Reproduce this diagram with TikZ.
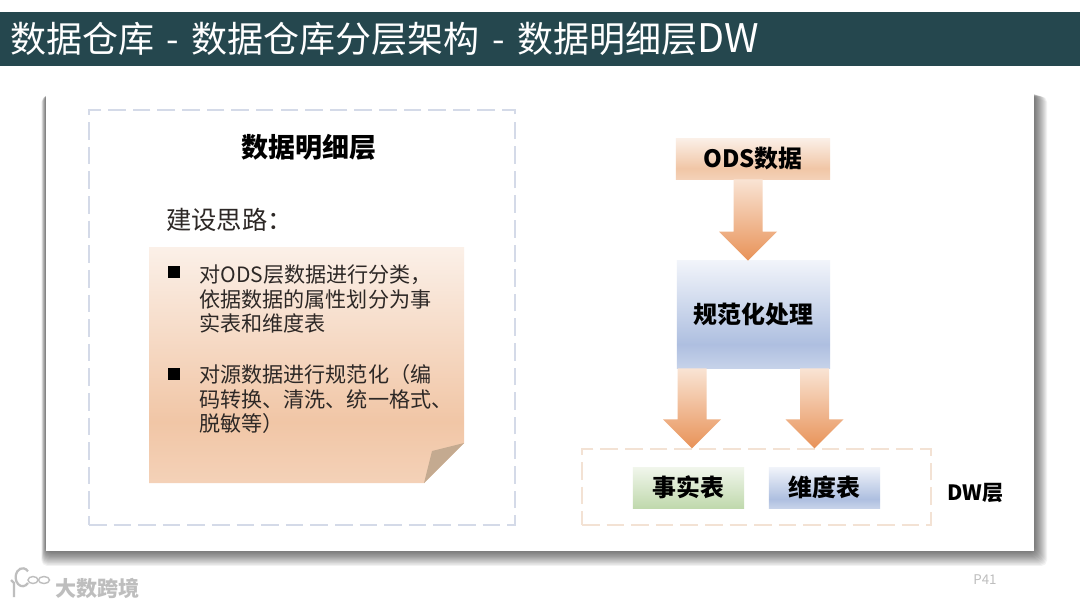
\documentclass[tikz,border=0pt]{standalone}
\usepackage{fontspec}
\setmainfont{Noto Sans CJK SC}
\usetikzlibrary{calc}
\definecolor{titleTeal}{RGB}{37, 71, 78}
\definecolor{bodyText}{RGB}{45, 40, 38}
\definecolor{leftDash}{RGB}{212, 218, 232}
\definecolor{rightDash}{RGB}{243, 226, 212}
\definecolor{foldTan}{RGB}{196, 170, 144}
\definecolor{peachTop}{RGB}{251, 240, 232}
\definecolor{peachLow}{RGB}{241, 198, 166}
\definecolor{blueTop}{RGB}{241, 244, 250}
\definecolor{blueLow}{RGB}{174, 191, 224}
\definecolor{greenTop}{RGB}{241, 246, 236}
\definecolor{greenLow}{RGB}{192, 217, 173}
\definecolor{arrowTop}{RGB}{249, 228, 212}
\definecolor{arrowLow}{RGB}{232, 146, 88}
\definecolor{markGray}{RGB}{190, 190, 190}
\pgfdeclareverticalshading{peachShade}{100bp}{color(0bp)=(peachLow!80!white); color(25bp)=(peachLow!80!white); color(38bp)=(peachLow); color(75bp)=(peachTop); color(100bp)=(peachTop)}
\pgfdeclareverticalshading{blueShade}{100bp}{color(0bp)=(blueLow!70!white); color(25bp)=(blueLow!70!white); color(36bp)=(blueLow); color(75bp)=(blueTop); color(100bp)=(blueTop)}
\pgfdeclareverticalshading{greenShade}{100bp}{color(0bp)=(greenLow); color(25bp)=(greenLow); color(75bp)=(greenTop); color(100bp)=(greenTop)}
\newcommand{\blockarrow}[3]{
    \coordinate (tail) at ($(#1.south)+(#2,0)$);
    \coordinate (tip) at (tail |- #3.north);
    \path[flowarrow] ($(tail)+(-14.5,0)$) -- ($(tip)+(-14.5,-29)$) -- ($(tip)+(-29,-29)$) -- (tip)
        -- ($(tip)+(29,-29)$) -- ($(tip)+(14.5,-29)$) -- ($(tail)+(14.5,0)$) -- cycle;
}
\newcommand{\titlegap}{\hspace{3.2pt} - \hspace{3.2pt}}

\begin{document}
\begin{tikzpicture}[
                x=0.025cm,y=-0.025cm,
                flowbox/.style={inner sep=0pt,font=\fontsize{17}{20}\selectfont\bfseries,text=black},
                dashbox/.style={inner sep=0pt,line width=1pt,dash pattern=on 12.5pt off 5pt},
                flowarrow/.style={top color=arrowTop,bottom color=arrowLow},
                bullet/.style={fill=black,inner sep=0pt,minimum size=0.3cm},
                bodyline/.style={inner sep=0pt,anchor=west,align=left,text=bodyText,
                             font=\fontsize{15}{17.7}\selectfont}
            ]
                \useasboundingbox (0,0) rectangle (1080,608);
                \fill[white] (0,0) rectangle (1080,608);
                \node[fill=titleTeal,inner sep=0pt,minimum width=27cm,minimum height=1.35cm] (titlebar) at (540,39) {};
                \node[inner sep=0pt,anchor=west,text=white,font=\fontsize{25.6}{30}\selectfont] (titletext) at (10,39) {数据仓库\titlegap 数据仓库分层架构\titlegap 数据明细层{\fontsize{28}{30}\selectfont DW}};
                \foreach \i in {1,...,13}
                    \fill[black,opacity=0.05,rounded corners=4pt] (46-\i*0.35,92.5+\i*0.3) rectangle (1034+\i,551+\i*1.15);
                \node[fill=white,inner sep=0pt,minimum width=24.7cm,minimum height=11.475cm] (card) at (540,321.5) {};
                \node[dashbox,draw=leftDash,minimum width=10.65cm,minimum height=10.375cm] (detailframe) at (302,317.5) {};
                \node[inner sep=0pt,text=black,font=\fontsize{19.2}{23}\selectfont\bfseries] (detailhead) at (308.5,147) {数据明细层};
                \node[inner sep=0pt,anchor=west,text=bodyText,font=\fontsize{18}{21}\selectfont] (ideahead) at (166,220) {建设思路：};
                \shade[shading=peachShade] (149,247) -- (464,247) -- (464,443) -- (424,483) -- (149,483) -- cycle;
                \fill[foldTan] (424,483) -- (432,451) -- (464,443) -- cycle;
                \node[bullet] (bulletone) at (174,272) {};
                \node[bodyline] (pointone) at (199,299) {对ODS层数据进行分类，\\依据数据的属性划分为事\\实表和维度表};
                \node[bullet] (bullettwo) at (174,374) {};
                \node[bodyline] (pointtwo) at (199,399) {对源数据进行规范化（编\\码转换、清洗、统一格式、\\脱敏等）};
                \node[flowbox,shading=peachShade,minimum width=3.85cm,minimum height=1.025cm] (odsbox) at (753,158.5) {ODS数据};
                \node[flowbox,shading=blueShade,minimum width=3.825cm,minimum height=2.675cm] (normbox) at (753.5,314.5) {规范化处理};
                \node[dashbox,draw=rightDash,minimum width=8.725cm,minimum height=1.9cm] (dwframe) at (756.5,487) {};
                \node[flowbox,shading=greenShade,minimum width=2.775cm,minimum height=1.025cm] (factbox) at (688.5,487.5) {事实表};
                \node[flowbox,shading=blueShade,minimum width=2.775cm,minimum height=1.025cm] (dimbox) at (824.5,487.5) {维度表};
                \node[inner sep=0pt,anchor=west,text=black,font=\fontsize{15}{18}\selectfont\bfseries] (dwlabel) at (947,493) {DW层};
                \blockarrow{odsbox}{-5}{normbox}
                \blockarrow{normbox}{-61.5}{dwframe}
                \blockarrow{normbox}{61}{dwframe}
                \node[inner sep=0pt,text=markGray,font=\fontsize{9.5}{11}\selectfont] (pagenum) at (985,580) {P41};
                \node[inner sep=0pt,anchor=west,text=markGray,font=\fontsize{15}{18}\selectfont\bfseries] (marktext) at (55,588) {大数跨境};
                \draw[markGray,line width=1.6pt] (11,580) -- (14,583) -- (14,597);
                \draw[markGray,line width=1.6pt] (28,583) arc (40:320:7 and 9);
                \draw[markGray,line width=1pt] (33,580) ellipse (5 and 3.5);
                \draw[markGray,line width=1pt] (44,580) ellipse (5.5 and 3.5);
            \end{tikzpicture}
\end{document}
